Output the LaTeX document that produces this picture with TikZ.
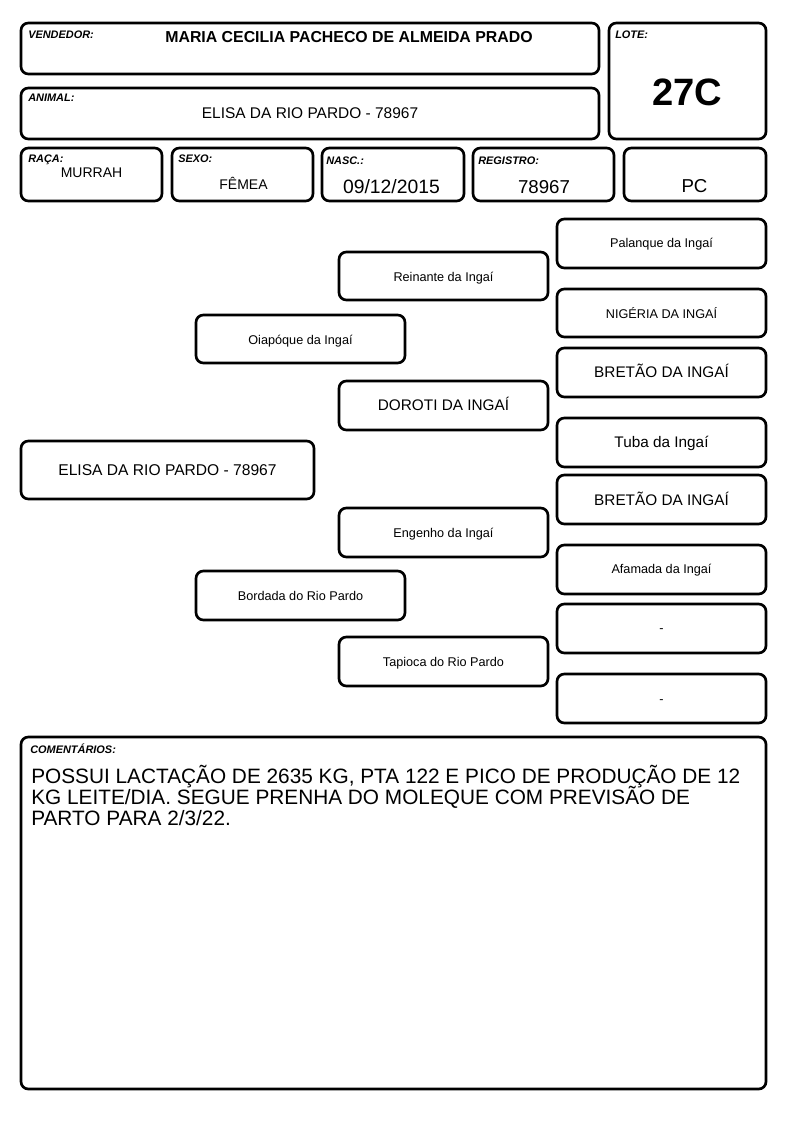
\documentclass[tikz,border=0pt]{standalone}
\usepackage{fontspec}
\setmainfont{Liberation Sans}
\def\fs#1{\fontsize{#1}{#1}\selectfont}
\def\tightlines{\lineskiplimit=-20pt\relax}

\begin{document}
\begin{tikzpicture}[x=0.75pt, y=-0.75pt,
		card/.style={line width=2pt, rounded corners=5.5pt},
		tag/.style={anchor=base west, inner sep=0pt, font=\fs{8.2}\bfseries\itshape},
		val/.style={anchor=base, inner sep=0pt},
		small/.style={val, font=\fs{9.5}},
		big/.style={val, font=\fs{11.5}}]
			%%%%% START %%%%%
			
			\useasboundingbox (0, 0) rectangle (794, 1123);
			
			% cabecalho
			\draw[card] (21, 23) rectangle (599, 74);
			\node[tag] (vendtag) at (28, 39) {VENDEDOR:};
			\node[val, font=\fs{11.9}\bfseries] (vendedor) at (349, 43) {MARIA CECILIA PACHECO DE ALMEIDA PRADO};
			
			\draw[card] (21, 88) rectangle (599, 139);
			\node[tag] (animtag) at (28, 102) {ANIMAL:};
			\node[val, font=\fs{11.6}] (animal) at (310, 118.5) {ELISA DA RIO PARDO - 78967};
			
			\draw[card] (609, 23) rectangle (766, 139);
			\node[tag] (lotetag) at (615, 39) {LOTE:};
			\node[val, font=\fs{28.6}\bfseries] (lote) at (687, 105.5) {27C};
			
			\draw[card] (21, 148) rectangle (162, 201);
			\node[tag] (racatag) at (28, 163) {RAÇA:};
			\node[val, font=\fs{10.5}] (raca) at (91.5, 178) {MURRAH};
			
			\draw[card] (172, 148) rectangle (313, 201);
			\node[tag] (sexotag) at (178, 163) {SEXO:};
			\node[val, font=\fs{10.5}] (sexo) at (243.5, 189.5) {FÊMEA};
			
			\draw[card] (322, 148) rectangle (464, 201);
			\node[tag] (nasctag) at (326, 165) {NASC.:};
			\node[val, font=\fs{14.5}] (nasc) at (391.5, 193.3) {09/12/2015};
			
			\draw[card] (473, 148) rectangle (614, 201);
			\node[tag] (regtag) at (478, 165) {REGISTRO:};
			\node[val, font=\fs{14}] (registro) at (544, 193.3) {78967};
			
			\draw[card] (624, 148) rectangle (766, 201);
			\node[val, font=\fs{14}] (categoria) at (694.5, 193) {PC};
			
			% genealogia
			\draw[card] (21, 441) rectangle (314, 499);
			\node[val, font=\fs{11.7}] (elisa) at (167.5, 475.5) {ELISA DA RIO PARDO - 78967};
			
			\draw[card] (196, 315) rectangle (405, 363);
			\node[small] (oiapoque) at (300.5, 344.5) {Oiapóque da Ingaí};
			\draw[card] (196, 571) rectangle (405, 620);
			\node[small] (bordada) at (300.5, 600) {Bordada do Rio Pardo};
			
			\draw[card] (339, 252) rectangle (548, 300);
			\node[small] (reinante) at (443.5, 281) {Reinante da Ingaí};
			\draw[card] (339, 381) rectangle (548, 430);
			\node[big] (doroti) at (443.5, 410.5) {DOROTI DA INGAÍ};
			\draw[card] (339, 508) rectangle (548, 557);
			\node[small] (engenho) at (443.5, 537) {Engenho da Ingaí};
			\draw[card] (339, 637) rectangle (548, 686);
			\node[small] (tapioca) at (443.5, 666) {Tapioca do Rio Pardo};
			
			\draw[card] (557, 219) rectangle (766, 268);
			\node[small] (palanque) at (661.5, 247.5) {Palanque da Ingaí};
			\draw[card] (557, 289) rectangle (766, 337);
			\node[small] (nigeria) at (661.5, 318) {NIGÉRIA DA INGAÍ};
			\draw[card] (557, 348) rectangle (766, 397);
			\node[big] (bretaoa) at (661.5, 377) {BRETÃO DA INGAÍ};
			\draw[card] (557, 418) rectangle (766, 467);
			\node[big] (tuba) at (661.5, 447) {Tuba da Ingaí};
			\draw[card] (557, 475) rectangle (766, 524);
			\node[big] (bretaob) at (661.5, 505) {BRETÃO DA INGAÍ};
			\draw[card] (557, 545) rectangle (766, 594);
			\node[small] (afamada) at (661.5, 573.5) {Afamada da Ingaí};
			\draw[card] (557, 604) rectangle (766, 653);
			\node[small] (vazioa) at (661.5, 632.5) {-};
			\draw[card] (557, 674) rectangle (766, 723);
			\node[small] (vaziob) at (661.5, 703.5) {-};
			
			% comentarios (base = ultima linha)
			\draw[card] (21, 737) rectangle (766, 1089);
			\node[tag] (comtag) at (30, 753) {COMENTÁRIOS:};
			\node[anchor=base west, inner sep=0pt, align=left, font=\fontsize{15.6}{15.75}\selectfont\tightlines] (comentario) at (31, 825)
				{POSSUI LACTAÇÃO DE 2635 KG, PTA 122 E PICO DE PRODUÇÃO DE 12\\
				KG LEITE/DIA. SEGUE PRENHA DO MOLEQUE COM PREVISÃO DE\\
				PARTO PARA 2/3/22.};
			
			%%%%% END %%%%%
\end{tikzpicture}
\end{document}
